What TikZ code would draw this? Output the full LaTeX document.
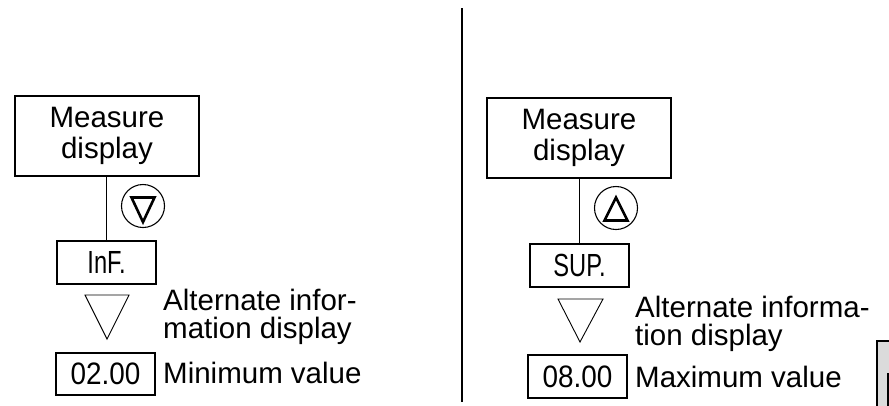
\documentclass[tikz,border=0pt]{standalone}
\usepackage{fontspec}
\setmainfont{Liberation Sans}
\newfontfamily\condfont[FakeStretch=0.74]{Liberation Sans}
\newfontfamily\digitfont[FakeStretch=0.9]{Liberation Sans}
\begin{document}
\begin{tikzpicture}[x=1pt,y=-1pt,
  box/.style={draw,line width=1.1pt,inner sep=0pt,align=center,
    font=\fontsize{29.5}{31}\selectfont},
  dispbox/.style={draw,line width=1.1pt,inner sep=0pt,minimum width=99pt,minimum height=43pt},
  dlet/.style={font=\condfont\fontsize{32}{32}\selectfont},
  ddig/.style={font=\digitfont\fontsize{31}{32}\selectfont},
  keycirc/.style={draw,circle,line width=1.1pt,minimum size=43pt,inner sep=0pt},
  keytri/.style={line width=2.6pt,line join=miter},
  flowtri/.style={line width=0.9pt,line join=miter},
  lbl/.style={inner sep=0pt,align=left,font=\fontsize{29.5}{28}\selectfont},
  link/.style={line width=1.1pt}]
\useasboundingbox (0,0) rectangle (889,405);
% divider
\coordinate (divtop) at (462,8);
\coordinate (divbot) at (462,402);
\draw[line width=1.3pt] (divtop) -- (divbot);

% left column
\node[box,minimum width=184pt,minimum height=80pt] (m1) at (107,136) {Measure\\display};
\node[dispbox,dlet] (d1) at (106.5,262.5) {InF.};
\draw[link] (d1.north) -- (d1.north |- m1.south);
\node[keycirc] (c1) at (143,206) {};
\draw[keytri] ([shift={(-11.5,-8.5)}]c1.center) -- ([shift={(11.5,-8.5)}]c1.center) -- ([shift={(0,16)}]c1.center) -- cycle;
\draw[flowtri] (85,295) -- (129,295) -- (107,339) -- cycle;
\node[lbl,anchor=north west] (a1) at (163,289) {Alternate infor-\\mation display};
\node[dispbox,ddig,minimum height=42pt] (v1) at (105.5,374) {02.00};
\node[lbl,anchor=base west] (t1) at (163,383) {Minimum value};

% right column
\node[box,minimum width=184pt,minimum height=80pt] (m2) at (579,138) {Measure\\display};
\node[dispbox,dlet] (d2) at (579.5,265.5) {SUP.};
\draw[link] (d2.north) -- (d2.north |- m2.south);
\node[keycirc] (c2) at (616,208) {};
\draw[keytri] ([shift={(0,-10.5)}]c2.center) -- ([shift={(11.5,12.5)}]c2.center) -- ([shift={(-11.5,12.5)}]c2.center) -- cycle;
\draw[flowtri] (558,299) -- (603,299) -- (580,342) -- cycle;
\node[lbl,anchor=north west] (a2) at (635,295.5) {Alternate informa-\\tion display};
\node[dispbox,ddig] (v2) at (577.5,376.5) {08.00};
\node[lbl,anchor=base west] (t2) at (635,387) {Maximum value};

% partial grey box at the right edge
\draw[line width=2pt,fill=gray!28] (877,341) rectangle (900,420);
\draw[line width=3pt] (888,373) -- (888,420);
\end{tikzpicture}
\end{document}
